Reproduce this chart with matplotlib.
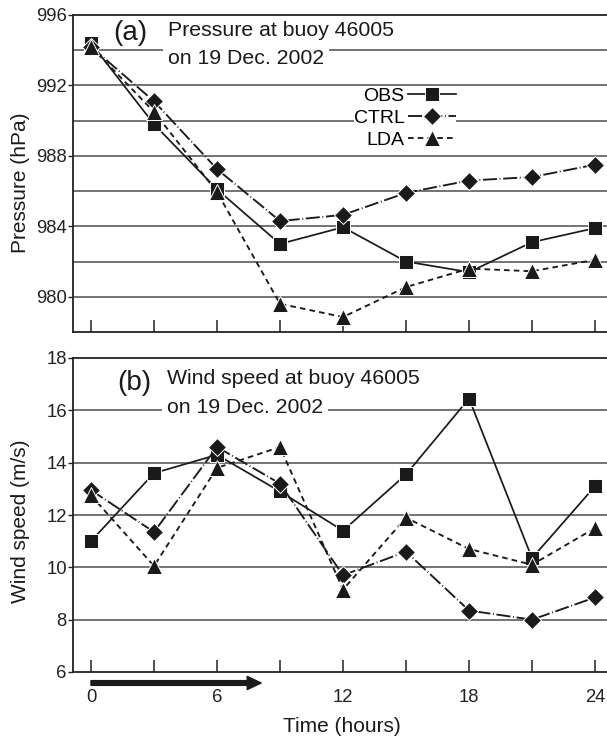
import matplotlib
matplotlib.use('Agg')
import matplotlib.pyplot as plt

plt.rcParams['font.family'] = ['Liberation Sans', 'DejaVu Sans']

# ---------------- data ----------------
hours = [0, 3, 6, 9, 12, 15, 18, 21, 24]

p_obs = [994.4, 989.8, 986.1, 983.0, 983.95, 982.0, 981.4, 983.1, 983.9]
p_ctrl = [994.2, 991.1, 987.25, 984.3, 984.65, 985.9, 986.6, 986.8, 987.5]
p_lda = [994.2, 990.5, 985.95, 979.6, 978.85, 980.55, 981.6, 981.45, 982.1]

w_obs = [11.0, 13.6, 14.3, 12.9, 11.4, 13.55, 16.45, 10.35, 13.1]
w_ctrl = [12.95, 11.35, 14.6, 13.2, 9.7, 10.6, 8.35, 8.0, 8.85]
w_lda = [12.75, 10.05, 13.8, 14.6, 9.15, 11.9, 10.7, 10.1, 11.5]

series_labels = ['OBS', 'CTRL', 'LDA']
x_major = [0, 6, 12, 18, 24]
x_minor = [3, 9, 15, 21]
p_ticks = [980, 984, 988, 992, 996]
p_grid = [980, 982, 984, 986, 988, 990, 992, 994]
w_ticks = [6, 8, 10, 12, 14, 16, 18]
w_grid = [8, 10, 12, 14, 16]
arrow_start, arrow_end = 0, 8.1

# ---------------- figure ----------------
W, H = 607, 738
fig = plt.figure(figsize=(W / 100, H / 100), dpi=100)
L = 73
ax1 = fig.add_axes([L / W, 1 - 332 / H, (W - L) / W, 317 / H])
ax2 = fig.add_axes([L / W, 1 - 672 / H, (W - L) / W, 314 / H])

XLIM = (-0.857, 24.57)
INK = '#1a1a1a'


def style(ax, ylim, yticks, ygrid, show_xlabels):
    ax.set_xlim(*XLIM)
    ax.set_ylim(*ylim)
    ax.spines['right'].set_visible(False)
    for s in ('left', 'top', 'bottom'):
        ax.spines[s].set_linewidth(1.3)
        ax.spines[s].set_color('#222222')
    for v in ygrid:
        ax.axhline(v, color='#4d4d4d', lw=1.1, zorder=1)
    ax.set_yticks(yticks)
    ax.tick_params(axis='y', direction='out', length=3.5, width=1.0,
                   pad=1.0, labelsize=13.3, colors='#222222')
    ax.set_xticks(x_major)
    ax.set_xticks(x_minor, minor=True)
    ax.tick_params(axis='x', which='both', direction='in', length=8.6,
                   width=1.1, pad=12.6, labelsize=13.3, colors='#222222')
    if not show_xlabels:
        ax.set_xticklabels([])


def draw(ax, obs, ctrl, lda):
    ax.plot(hours, obs, color=INK, lw=1.25, ls='-', marker='s', ms=9.8,
            mfc=INK, mec='white', mew=0.7, label=series_labels[0], zorder=3)
    ax.plot(hours, ctrl, color=INK, lw=1.35, ls=(0, (7.5, 1.4, 0.5, 1.4)),
            marker='D', ms=9.4, mfc=INK, mec='white', mew=0.7,
            label=series_labels[1], zorder=4)
    ax.plot(hours, lda, color=INK, lw=1.35, ls=(0, (3, 2.2)), marker='^',
            ms=11.5, mfc=INK, mec='white', mew=0.7, label=series_labels[2],
            zorder=5)


style(ax1, (978, 996), p_ticks, p_grid, False)
style(ax2, (6, 18), w_ticks, w_grid, True)
draw(ax1, p_obs, p_ctrl, p_lda)
draw(ax2, w_obs, w_ctrl, w_lda)

# panel titles
box = dict(facecolor='white', edgecolor='none', pad=3.5)
ax1.text(1.88, 994.58, '(a)', fontsize=20, ha='center', va='baseline',
         color=INK, zorder=6)
ax1.text(3.67, 994.78, 'Pressure at buoy 46005', fontsize=15.3, ha='left',
         va='baseline', color=INK, zorder=6)
ax1.text(3.67, 993.19, 'on 19 Dec. 2002', fontsize=15.3, ha='left',
         va='baseline', color=INK, bbox=box, zorder=6)

ax2.text(2.05, 16.78, '(b)', fontsize=20, ha='center', va='baseline',
         color=INK, zorder=6)
ax2.text(3.62, 16.99, 'Wind speed at buoy 46005', fontsize=15.3, ha='left',
         va='baseline', color=INK, zorder=6)
ax2.text(3.62, 15.88, 'on 19 Dec. 2002', fontsize=15.3, ha='left',
         va='baseline', color=INK, bbox=box, zorder=6)

# legend
leg = ax1.legend(loc='center', bbox_to_anchor=(14.95, 990.15),
                 bbox_transform=ax1.transData, markerfirst=False,
                 frameon=True, facecolor='white', edgecolor='none',
                 framealpha=1, fancybox=False, fontsize=14,
                 handlelength=2.5, handletextpad=0.15, labelspacing=0.22,
                 borderpad=0.0, borderaxespad=0)
leg.set_zorder(1.5)

# axis labels
ax1.set_ylabel('Pressure (hPa)', fontsize=15, color=INK)
ax1.yaxis.set_label_coords(-0.099, 0.47)
ax1.yaxis.label.set_va('center')
ax2.set_ylabel('Wind speed (m/s)', fontsize=15, color=INK)
ax2.yaxis.set_label_coords(-0.099, 0.481)
ax2.yaxis.label.set_va('center')
ax2.set_xlabel('Time (hours)', fontsize=15, color=INK)
ax2.xaxis.set_label_coords(0.504, -0.175)
ax2.xaxis.label.set_va('center')

# arrow below the time axis
ax2.annotate('', xy=(arrow_end, 5.58), xytext=(arrow_start, 5.58),
             xycoords='data', textcoords='data', annotation_clip=False,
             arrowprops=dict(facecolor=INK, edgecolor=INK, width=3.4,
                             headwidth=9.5, headlength=10, shrink=0))

fig.savefig('out.png', dpi=100, facecolor='white')
